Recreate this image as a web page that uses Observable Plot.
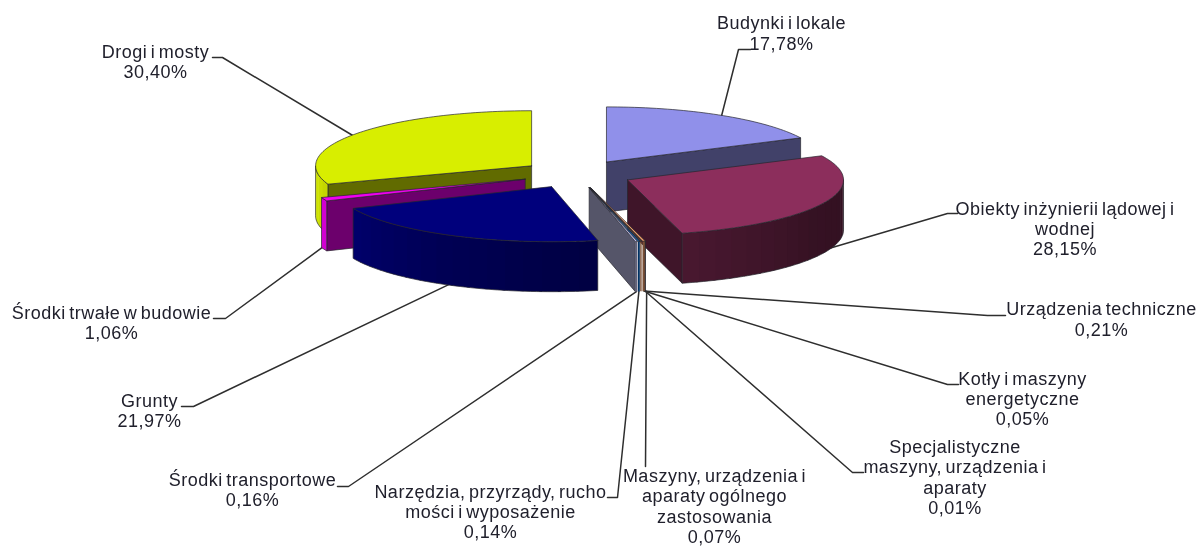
<!DOCTYPE html>
<html>
<head>
<meta charset="utf-8">
<script src="https://cdn.jsdelivr.net/npm/d3@7"></script>
<script src="https://cdn.jsdelivr.net/npm/@observablehq/plot@0.6"></script>
<style>
html,body{margin:0;padding:0;background:#fff;overflow:hidden}
svg{display:block;filter:blur(0.45px)}
</style>
</head>
<body>
<div id="chart"></div>
<script>
// data
const names = ["Budynki i lokale","Obiekty inżynierii lądowej i\nwodnej","Urządzenia techniczne","Kotły i maszyny\nenergetyczne","Specjalistyczne\nmaszyny, urządzenia i\naparaty","Maszyny, urządzenia i\naparaty ogólnego\nzastosowania","Narzędzia, przyrządy, rucho\nmości i wyposażenie","Środki transportowe","Grunty","Środki trwałe w budowie","Drogi i mosty"];
const values = [17.78,28.15,0.21,0.05,0.01,0.07,0.14,0.16,21.97,1.06,30.40];
// styles
const colors = ["#9090ea","#8c2e5c","#ea9a68","#ea9a68","#ea9a68","#ea9a68","#005ebb","#bcbcea","#00007c","#f000f0","#d8ee00"];
// layout: label centres and the knee / end of each leader
const labelX = [781,1064.5,1101,1022,954.5,714,490,252,149,111,155];
const labelY = [32.5,228,318.5,398,476.5,505.5,511,489,410,322,61];
const kneeX = [738,947,987,947,852,645,617,348,193,225,222];
const kneeY = [49,213,315,384,472,466,497,486,406,318,57];
const endX  = [750,957,1005,958,863,645,607,337,181,213,212];
const endY  = [49,213,315,384,472,466,497,486,406,318,57];
const rimNudgeX = [0,0,0,3,4,6,0,0,0,0,0];
const rimNudgeY = [3,-3,0,0,0,0,0,0,-3,-3,3];
const drawOrder = [10,0,1,9,2,3,4,5,6,7,8];

// projection of the tilted, exploded pie
const CX = 576.5, CY = 173.5, EXPLODE = 55.6, R = 216, K = 0.255, DEPTH = 50;
const rad = d => d * Math.PI / 180;
const total = d3.sum(values);
let acc = 0;
const slices = values.map((v, i) => {
  const a0 = acc / total * 360; acc += v;
  const a1 = acc / total * 360;
  const mid = rad((a0 + a1) / 2);
  return {i, a0, a1, mid: (a0 + a1) / 2,
    ax: CX + EXPLODE * Math.sin(mid), ay: CY - EXPLODE * K * Math.cos(mid)};
});
const pt = (s, deg, r, z) => [s.ax + r * Math.sin(rad(deg)), s.ay - r * K * Math.cos(rad(deg)) + z];
const shadeAt = d3.scaleLinear().domain([90,120,165,210,246,270]).range([0.36,0.38,0.52,0.68,0.86,1]).clamp(true);
const dim = (c, f) => { const q = d3.rgb(c); return d3.rgb(q.r*f, q.g*f, q.b*f).formatHex(); };
const FACE = 0.45, EDGE = "#26262e";

const rows = [];
let pid = 0;
const poly = (pts, fill, stroke) => {
  pid++;
  for (const [x, y] of [...pts, pts[0]]) rows.push({pid, x, y, fill, stroke});
};
const arc = (s, from, to, z) => {
  const n = Math.max(1, Math.ceil((to - from) / 1.5));
  return d3.range(n + 1).map(j => pt(s, from + (to - from) * j / n, R, z));
};

for (const idx of drawOrder) {
  const s = slices[idx], col = colors[idx];
  const big = s.a1 - s.a0 > 2;
  // flat cut faces
  const face = a => [pt(s,a,0,0), pt(s,a,R,0), pt(s,a,R,DEPTH), pt(s,a,0,DEPTH)];
  if (Math.sin(rad(s.a0)) < -1e-6) poly(face(s.a0), dim(col, FACE), EDGE);
  if (idx === 7 || (big && Math.sin(rad(s.a1)) > 1e-6)) poly(face(s.a1), dim(col, FACE), EDGE);
  // outer wall, in strips so the shading follows the angle; each strip overlaps the next
  const from = Math.max(s.a0, 90), to = Math.min(s.a1, 270);
  if (to > from) {
    const n = Math.max(1, Math.ceil((to - from) / 5));
    for (let j = 0; j < n; j++) {
      const t0 = from + (to - from) * j / n;
      const t1 = from + (to - from) * (j + 1) / n;
      const t1x = big && j < n - 1 ? t1 + 0.8 : t1;
      const f = dim(col, shadeAt((t0 + t1) / 2));
      poly([...arc(s,t0,t1x,0), ...arc(s,t0,t1x,DEPTH).reverse()], f, "none");
    }
    if (big) poly([...arc(s,from,to,0), ...arc(s,from,to,DEPTH).reverse()], "none", EDGE);
    if (idx === 2) poly([pt(s,s.a0,R,0), pt(s,s.a0,R,DEPTH)], "none", EDGE);
  }
  // top
  poly([pt(s,0,0,0), ...arc(s,s.a0,s.a1,0)], col, EDGE);
}

// leader lines: from the middle of each slice's rim, over the knee, to the label
const leaders = [];
slices.forEach(s => {
  const front = Math.cos(rad(s.mid)) < 0;
  const [tx, ty] = pt(s, s.mid, R, front ? DEPTH : 0);
  [[tx + rimNudgeX[s.i], ty + rimNudgeY[s.i]],[kneeX[s.i],kneeY[s.i]],[endX[s.i],endY[s.i]]].forEach(([x,y]) => leaders.push({id:s.i,x,y}));
});

const labels = names.map((n, i) => ({
  text: n + "\n" + values[i].toFixed(2).replace(".", ",") + "%",
  x: labelX[i], y: labelY[i]
}));

const chart = Plot.plot({
  width: 1197, height: 546,
  marginTop: 0, marginRight: 0, marginBottom: 0, marginLeft: 0,
  x: {domain: [0,1197], range: [0,1197], axis: null},
  y: {domain: [0,546], range: [0,546], axis: null},
  style: {fontFamily: "'Liberation Sans', Arial, sans-serif", background: "#fff", letterSpacing: "0.5px", wordSpacing: "-2px"},
  marks: [
    Plot.line(leaders, {x:"x", y:"y", z:"id", stroke:"#2e2e2e", strokeWidth:1.5, curve:"linear"}),
    Plot.line(rows, {x:"x", y:"y", z:"pid", fill:"fill", stroke:"stroke", strokeWidth:0.7, curve:"linear", strokeLinejoin:"round"}),
    Plot.text(labels, {x:"x", y:"y", text:"text", fontSize:18, lineHeight:1.13, lineAnchor:"middle", textAnchor:"middle", fill:"#20202c"})
  ]
});
document.getElementById("chart").append(chart);
</script>
</body>
</html>
